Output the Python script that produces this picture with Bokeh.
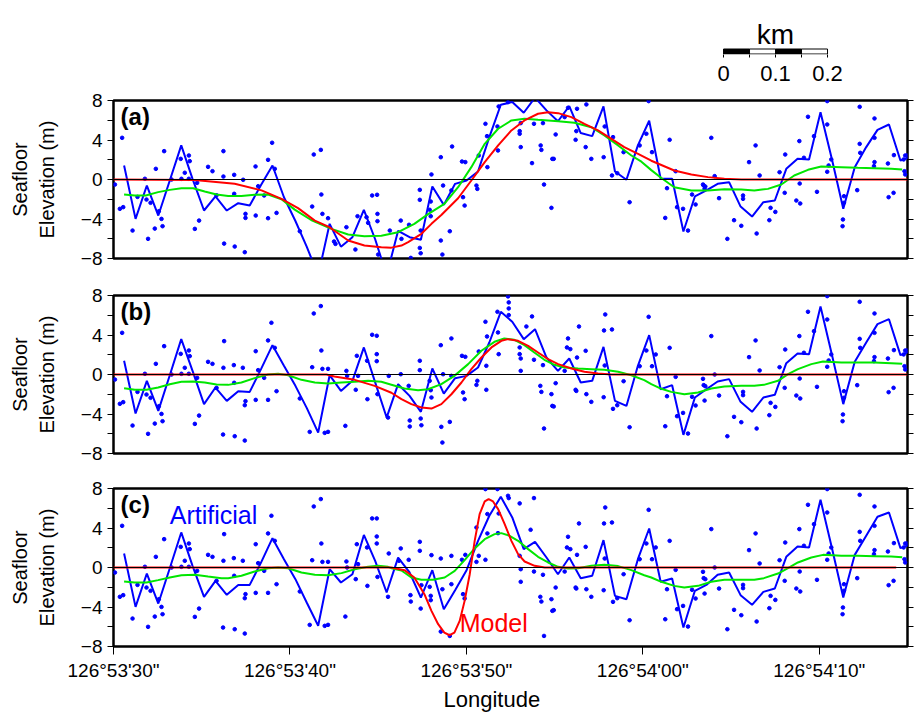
from bokeh.plotting import figure
from bokeh.layouts import column
from bokeh.models import Range1d, LinearAxis, FixedTicker, Span, Label, Title
from bokeh.embed import file_html
from bokeh.resources import INLINE

FONT = "Liberation Sans"
BLUE = "#0000ff"
RED = "#ff0000"
GREEN = "#00e600"

# ---------------- data (x = arc-seconds after 126°53'00") ----------------
x_ticks = [30, 40, 50, 60, 70]
x_tick_labels = ["126°53'30\"", "126°53'40\"", "126°53'50\"", "126°54'00\"", "126°54'10\""]
y_ticks = [-8, -4, 0, 4, 8]
y_minor = [-6, -2, 2, 6]

scale_ticks = [0, 0.05, 0.1, 0.15, 0.2]
scale_label_pos = [0, 0.1, 0.2]
scale_labels = ["0", "0.1", "0.2"]
scale_minor = [0.05, 0.15]

# profile vertices (blue line)
line_x = [30.60, 31.25, 31.89, 32.54, 33.19, 33.84, 34.48, 35.13, 35.78, 36.42,
          37.07, 37.72, 38.36, 39.01, 39.66, 40.31, 40.95, 41.60, 42.25, 42.89,
          43.54, 44.19, 44.83, 45.48, 46.13, 46.78, 47.42, 48.07, 48.72, 49.36,
          50.01, 50.66, 51.30, 51.95, 52.60, 53.25, 53.89, 54.54, 55.19, 55.83,
          56.48, 57.13, 57.77, 58.42, 59.07, 59.72, 60.36, 61.01, 61.66, 62.30,
          62.95, 63.60, 64.24, 64.89, 65.54, 66.19, 66.83, 67.48, 68.13, 68.77,
          69.42, 70.07, 70.71, 71.36, 72.01, 72.66, 73.30, 73.95, 74.60, 75.24]
line_a = [1.42, -3.99, -0.61, -3.65, -0.10, 3.45, 0.07, -3.14, -1.72, -3.14,
          -2.40, -2.64, -0.55, 1.42, -1.80, -4.20, -6.80, -9.70, -4.49, -6.80,
          -5.84, -3.07, -6.05, -9.70, -5.20, -5.84, -6.10, -0.70, -2.57, -0.44,
          -0.10, 0.81, 4.29, 7.57, 7.84, 6.76, 8.30, 7.00, 5.90, 7.43,
          4.70, 4.39, 7.40, 0.81, -0.03, 3.45, 5.95, 0.07, 0.07, -5.27,
          -1.72, -1.11, -0.44, -0.27, -2.74, -3.75, -2.30, -2.13, 1.08, 2.10,
          2.03, 6.82, 2.10, -2.97, 1.25, 3.28, 5.03, 5.57, 1.93, 2.30]
line_b = [1.39, -3.95, -0.64, -3.68, -0.07, 3.58, 0.37, -3.00, -1.32, -2.67,
          -1.69, -1.76, 0.54, 2.97, 0.88, -1.15, -3.38, -5.88, -0.07, -1.66,
          -0.64, 2.74, -0.80, -4.36, -0.98, -2.16, -3.78, 0.61, -1.93, -0.37,
          -0.14, 0.71, 3.24, 6.35, 5.34, 3.58, 4.59, 1.72, 0.37, 1.62,
          -0.81, -0.64, 2.80, -2.67, -3.18, 0.88, 3.99, -1.49, -1.08, -6.11,
          -2.33, -1.49, -0.71, -0.47, -2.77, -3.78, -2.33, -2.06, 1.15, 2.13,
          2.06, 6.89, 2.06, -3.00, 1.28, 3.24, 5.10, 5.60, 1.96, 2.40]
line_c = [1.42, -3.99, -0.61, -3.65, -0.07, 3.55, 0.17, -2.97, -1.35, -2.77,
          -1.76, -1.76, 0.50, 2.97, 0.84, -1.18, -3.55, -5.90, -0.17, -1.52,
          -0.68, 3.30, 0.68, -2.53, 1.00, -0.50, -3.04, -0.27, -4.22, -2.30,
          -0.27, 2.70, 5.24, 7.16, 5.07, 1.86, 2.60, 1.01, -0.68, 1.01,
          -1.08, -0.84, 2.77, -2.87, -3.21, 0.84, 3.95, -1.45, -1.11, -6.08,
          -2.36, -1.76, -0.74, -0.51, -2.80, -3.78, -2.47, -2.13, 1.08, 2.13,
          2.03, 6.86, 2.03, -3.04, 1.28, 3.21, 5.14, 5.57, 1.96, 2.36]

# model curves (red)
model_a_x = [30.0, 34.6, 36.87, 38.39, 39.52, 40.46, 41.41, 42.24, 43.3, 44.22,
             45.18, 45.75, 46.32, 46.7, 47.45, 48.02, 48.58, 49.53, 50.28, 51.04,
             51.8, 52.55, 53.29, 54.06, 54.63, 55.2, 55.95, 56.69, 57.46, 58.22,
             58.95, 59.73, 60.48, 61.78, 62.75, 63.69, 64.62, 65.58, 75.0]
model_a_y = [0.0, -0.05, -0.44, -1.10, -1.96, -2.90, -4.16, -4.83, -6.18, -6.69,
             -6.86, -6.90, -6.69, -6.35, -5.50, -4.49, -3.60, -1.90, -0.10, 1.76,
             3.45, 4.97, 5.98, 6.66, 6.82, 6.72, 6.32, 5.64, 4.97, 4.12,
             3.28, 2.60, 1.90, 0.91, 0.51, 0.24, 0.07, 0.0, 0.0]
model_b_x = [30.0, 42.07, 42.52, 43.67, 44.8, 45.75, 46.32, 46.88, 47.45, 48.02,
             48.58, 49.15, 49.72, 50.28, 50.85, 51.42, 51.98, 52.36, 52.93, 53.5,
             54.06, 54.63, 55.2, 55.95, 56.69, 57.46, 58.22, 75.0]
model_b_y = [0.0, 0.0, -0.20, -0.54, -1.15, -1.85, -2.50, -3.00, -3.34, -3.45,
             -3.00, -2.00, -0.81, 0.54, 1.72, 2.74, 3.41, 3.58, 3.41, 2.90,
             2.23, 1.55, 1.05, 0.61, 0.27, 0.10, 0.0, 0.0]
model_c_x = [30.0, 45.75, 46.49, 47.05, 47.62, 48.02, 48.4, 48.75, 49.05, 49.32,
             49.62, 49.9, 50.19, 50.47, 50.75, 51.04, 51.26, 51.51, 51.8, 52.17,
             52.55, 52.93, 53.3, 53.87, 54.44, 74.36]
model_c_y = [0.0, 0.0, -0.27, -1.01, -2.70, -4.39, -5.74, -6.59, -6.86, -6.59,
             -5.41, -3.38, -0.68, 2.70, 5.41, 6.69, 6.93, 6.69, 5.91, 4.39,
             2.70, 1.35, 0.61, 0.17, 0.0, 0.0]

# smoothed data (green)
smooth_a_x = [30.6, 31.21, 31.83, 32.53, 33.19, 33.85, 34.51, 35.17, 35.84, 36.5,
              37.25, 38.0, 38.76, 39.52, 40.27, 41.2, 42.35, 43.3, 44.22, 45.18,
              46.13, 47.05, 47.83, 48.75, 49.53, 50.28, 51.04, 51.8, 52.55, 53.29,
              54.06, 55.2, 56.12, 57.08, 57.82, 58.6, 59.35, 59.92, 60.48, 61.05,
              61.78, 62.75, 63.69, 64.62, 65.58, 66.32, 67.09, 67.85, 68.58, 69.36,
              70.11, 71.25, 72.19, 73.12, 74.08, 74.7]
smooth_a_y = [-1.52, -1.62, -1.62, -1.28, -1.05, -0.88, -0.88, -1.22, -1.52, -1.66,
              -1.66, -1.55, -1.52, -2.00, -3.05, -4.10, -5.00, -5.57, -5.74, -5.70,
              -5.34, -4.49, -3.50, -2.47, -0.78, 1.25, 3.61, 5.14, 5.98, 6.15,
              6.05, 5.91, 5.74, 5.30, 4.46, 3.45, 2.43, 1.80, 0.95, 0.15,
              -0.78, -1.11, -1.11, -0.98, -1.01, -1.11, -0.95, -0.51, 0.41, 0.98,
              1.32, 1.25, 1.18, 1.15, 1.08, 1.01]
smooth_b_x = [30.6, 31.21, 31.87, 32.53, 33.19, 33.85, 34.51, 35.17, 35.84, 36.5,
              37.25, 38.0, 38.76, 39.33, 39.9, 40.65, 41.41, 42.16, 42.92, 43.67,
              44.43, 45.18, 45.75, 46.49, 47.26, 47.83, 48.58, 49.32, 50.1, 50.85,
              51.59, 52.15, 52.72, 53.29, 53.85, 54.42, 54.99, 55.55, 56.33, 57.08,
              57.82, 58.6, 59.35, 60.08, 60.48, 61.05, 61.61, 62.35, 63.13, 63.88,
              64.62, 65.58, 66.32, 66.86, 67.66, 68.23, 68.79, 69.55, 70.21, 71.25,
              72.19, 73.12, 74.08, 74.7]
smooth_b_y = [-1.39, -1.55, -1.55, -1.32, -0.98, -0.74, -0.71, -0.81, -1.01, -1.05,
              -0.81, -0.37, 0.0, 0.07, -0.07, -0.54, -0.81, -0.91, -0.81, -0.74,
              -0.64, -0.74, -1.03, -1.42, -1.59, -1.49, -0.98, -0.14, 1.05, 2.40,
              3.31, 3.65, 3.51, 2.97, 2.23, 1.49, 0.98, 0.71, 0.61, 0.54,
              0.47, 0.27, -0.07, -0.57, -0.98, -1.45, -1.76, -1.99, -1.82, -1.42,
              -1.22, -1.15, -1.15, -1.05, -0.64, 0.03, 0.54, 1.05, 1.32, 1.22,
              1.22, 1.22, 1.15, 1.08]
smooth_c_x = [30.6, 31.21, 31.87, 32.53, 33.19, 33.85, 34.61, 35.36, 36.12, 36.5,
              37.25, 38.0, 38.76, 39.33, 39.9, 40.65, 41.41, 42.16, 42.92, 43.67,
              44.43, 45.0, 45.56, 45.75, 46.32, 46.88, 47.45, 48.11, 48.77, 49.34,
              49.9, 50.47, 51.04, 51.6, 51.98, 52.45, 52.93, 53.5, 54.06, 54.63,
              55.2, 55.76, 56.33, 57.08, 57.82, 58.6, 59.35, 60.08, 60.48, 61.05,
              61.78, 62.35, 63.13, 63.88, 64.62, 65.58, 66.32, 66.86, 67.66, 68.23,
              68.79, 69.55, 70.21, 71.25, 72.19, 73.12, 74.08, 74.7]
smooth_c_y = [-1.42, -1.52, -1.52, -1.28, -1.01, -0.78, -0.74, -0.91, -1.08, -1.08,
              -0.84, -0.41, -0.07, 0.0, -0.07, -0.51, -0.74, -0.78, -0.57, -0.17,
              0.07, 0.17, 0.07, -0.07, -0.30, -1.01, -1.25, -1.25, -1.01, -0.34,
              0.74, 1.93, 2.87, 3.38, 3.48, 3.21, 2.70, 1.86, 1.08, 0.51,
              0.07, -0.10, -0.07, 0.17, 0.27, 0.14, -0.27, -0.78, -1.01, -1.45,
              -1.86, -2.03, -1.86, -1.45, -1.25, -1.25, -1.25, -1.08, -0.61, -0.07,
              0.51, 1.01, 1.28, 1.18, 1.18, 1.15, 1.11, 1.05]

# individual soundings (blue dots): common to all panels outside the anomaly
dots_left_x = [30.08, 30.36, 30.49, 30.55, 31.08, 31.36, 31.78, 31.87, 31.96, 32.10,
               32.34, 32.40, 32.57, 32.72, 32.78, 32.87, 33.29, 33.81, 33.85, 34.04,
               34.27, 34.27, 34.32, 34.61, 34.74, 34.85, 35.36]
dots_left_y = [-0.51, -2.97, 4.22, -2.80, -5.17, -1.76, 0.07, -2.03, -6.01, -2.36,
               -4.97, 1.08, -3.21, -3.99, -4.73, 2.87, 0.00, 2.09, 0.07, 0.68,
               2.43, 0.07, 1.86, -5.00, -0.34, -4.16, 1.28]
dots_right_x = [66.02, 66.39, 66.45, 66.62, 67.17, 67.24, 67.51, 67.75, 68.04, 68.07,
                68.70, 68.87, 68.89, 68.92, 69.13, 69.36, 69.70, 69.87, 70.45, 70.45,
                70.45, 70.53, 70.68, 71.32, 71.34, 71.40, 71.40, 72.15, 72.29, 72.29,
                72.32, 73.10, 73.13, 73.13, 73.13, 73.89, 73.93, 74.21, 74.23, 74.78,
                74.83, 74.87, 74.87, 74.97]
dots_right_y = [1.76, 3.45, -5.47, 0.41, -4.12, -2.87, -3.28, 0.74, -1.35, 2.53,
                -2.13, 3.89, -0.41, -2.43, 2.20, 6.35, 4.39, -1.25, 7.94, 5.57,
                0.78, 1.42, 2.03, -4.73, -4.05, -1.69, -2.36, -1.08, 7.36, 3.61,
                2.70, 1.35, 6.18, 4.22, 1.76, 1.62, -1.79, -1.35, 2.47, 2.03,
                0.84, 2.43, 0.51, 2.43]

dots_a_x = [35.61, 35.84, 36.23, 36.23, 36.27, 36.84, 36.84, 36.87, 37.35, 37.44,
            37.48, 37.48, 38.05, 38.06, 38.20, 38.54, 38.76, 38.76, 38.99, 39.14,
            39.24, 40.56, 41.26, 41.35, 41.75, 41.78, 41.84, 42.16, 42.50, 42.58,
            43.20, 43.71, 43.83, 44.34, 44.43, 44.66, 44.94, 44.96, 44.96, 45.00,
            45.66, 46.28, 46.32, 46.75, 46.85, 47.36, 47.36, 47.36, 47.41, 47.41,
            47.92, 47.98, 47.98, 48.02, 48.55, 48.55, 48.64, 48.68, 49.06, 49.15,
            49.19, 49.75, 49.81, 49.90, 49.94, 50.57, 50.62, 50.70, 51.08, 51.17,
            51.19, 51.76, 51.79, 51.83, 52.36, 53.02, 53.02, 53.08, 53.08, 53.72,
            53.83, 54.21, 54.25, 54.34, 54.40, 54.82, 54.87, 54.95, 55.06, 55.57,
            55.76, 56.19, 56.23, 56.27, 56.76, 56.80, 57.08, 57.78, 57.84, 58.25,
            58.31, 58.55, 58.91, 59.25, 59.82, 60.20, 60.33, 60.52, 61.27, 61.37,
            61.52, 61.86, 61.94, 62.28, 62.56, 62.79, 62.99, 63.41, 63.45, 63.50,
            63.54, 63.88, 64.07, 64.32, 64.79, 65.17, 65.58, 65.68, 65.68]
dots_a_y = [0.84, -1.60, 2.87, 0.30, -6.49, -1.45, 0.47, -6.79, -0.03, -7.36,
            -3.89, -3.48, 1.32, -3.65, -0.68, -1.62, 1.99, -3.92, 3.72, 1.08,
            -3.38, -5.24, -2.74, 2.53, 3.00, -1.52, -3.48, -3.92, -6.28, -6.52,
            -4.83, -7.09, -3.72, -3.82, -4.39, -1.62, -1.55, -3.48, -4.22, -7.60,
            -5.17, -4.16, -6.01, -4.59, -7.94, -1.05, -2.06, -6.93, -7.47, -5.17,
            -3.07, -3.72, -2.23, 0.51, -6.18, 2.26, -7.60, -0.61, -5.24, -1.11,
            3.34, 1.82, -1.79, -2.64, 1.76, -0.61, -0.95, 2.43, 5.64, 4.39,
            1.25, 5.37, 2.94, 7.40, 7.84, 4.90, 4.63, 3.28, 5.71, 1.66,
            5.64, 3.45, 3.00, 5.71, -0.51, -2.87, 2.09, 2.09, 4.56, 6.32,
            7.26, 4.02, 4.90, 7.16, 3.28, 7.60, 2.09, 2.26, 5.37, 0.41,
            4.29, 0.64, 2.77, -2.30, 3.45, 4.63, 7.94, 2.77, -3.89, -0.88,
            4.02, 0.84, -2.80, -2.97, -5.17, -1.52, -2.53, -0.51, -0.61, -0.95,
            -0.71, 4.22, 0.34, -1.89, -6.01, -4.12, -4.69, -1.62, -1.96]

dots_b_x = [35.61, 35.84, 36.21, 36.23, 36.27, 36.82, 36.84, 36.87, 37.33, 37.44,
            37.44, 37.48, 38.06, 38.06, 38.20, 38.54, 38.76, 38.76, 38.95, 39.14,
            39.24, 40.56, 41.12, 41.26, 41.35, 41.75, 41.78, 41.84, 41.97, 42.16,
            42.16, 43.14, 43.20, 43.24, 43.73, 43.79, 43.86, 44.37, 44.39, 44.66,
            44.92, 44.92, 44.92, 44.96, 45.56, 45.60, 46.28, 46.73, 46.79, 46.79,
            47.36, 47.36, 47.41, 47.45, 47.92, 47.98, 48.02, 48.55, 48.58, 48.64,
            48.68, 49.06, 49.15, 49.15, 49.75, 49.81, 49.90, 49.94, 50.57, 50.62,
            50.70, 51.08, 51.13, 51.13, 51.17, 51.76, 51.79, 51.83, 52.36, 52.40,
            52.40, 52.40, 53.02, 53.02, 53.08, 53.08, 53.40, 53.72, 53.83, 54.19,
            54.25, 54.34, 54.40, 54.82, 54.87, 54.95, 55.06, 55.57, 55.70, 55.76,
            55.89, 56.19, 56.23, 56.27, 56.38, 56.76, 56.80, 57.08, 57.78, 57.80,
            57.84, 57.87, 58.25, 58.31, 58.55, 58.91, 59.25, 59.82, 60.20, 60.33,
            60.52, 60.73, 61.27, 61.37, 61.52, 61.86, 61.94, 62.28, 62.56, 62.79,
            62.99, 63.41, 63.45, 63.50, 63.54, 63.88, 64.07, 64.32, 64.79, 65.17,
            65.58, 65.68, 65.68]
dots_b_y = [1.08, -1.35, -6.08, 0.68, 3.38, 0.95, -0.84, -6.25, 0.68, -6.69,
            -3.11, -2.70, 2.36, -2.57, 0.44, -0.34, 3.45, -2.57, 5.24, 2.70,
            -1.69, -2.43, -5.81, 0.74, 6.18, 6.93, 2.43, 0.57, -5.91, 0.57,
            -5.81, -5.20, 0.37, -0.14, -1.55, 1.89, -0.14, 1.39, -2.50, 4.02,
            3.92, 2.06, 1.35, -1.99, -4.36, -0.14, 0.03, -1.15, -4.66, -5.27,
            1.39, 0.44, -4.46, -5.14, -0.64, -1.59, -2.33, 2.97, -5.30, -6.89,
            0.03, -4.80, 3.65, -0.14, 1.89, -1.82, -2.50, 1.79, -1.05, -0.64,
            2.33, 5.34, 0.88, -1.55, 3.85, 6.35, 4.26, 2.06, 7.91, 7.30,
            6.69, 6.01, 2.06, 2.74, 1.62, 0.37, 4.86, 5.88, 1.49, -1.15,
            -1.76, 0.95, -5.47, -1.99, -3.18, -3.24, -0.88, 0.37, 2.74, 3.65,
            2.57, -1.55, -1.66, 1.72, 4.86, 2.40, -1.99, -2.77, -2.30, 4.46,
            0.91, 6.08, 4.56, -3.48, -3.11, -0.68, -5.34, 0.84, 2.43, 5.84,
            0.84, 2.03, -5.24, -2.20, 2.70, -0.24, -4.22, -3.89, -5.98, -2.26,
            -3.14, -0.44, -1.08, -2.64, -1.18, 3.89, 0.00, -2.13, -6.25, -4.29,
            -4.83, -1.76, -2.09]

dots_c_x = [35.61, 35.84, 36.21, 36.23, 36.27, 36.82, 36.84, 36.87, 37.33, 37.44,
            37.44, 37.48, 38.06, 38.06, 38.20, 38.54, 38.76, 38.76, 38.95, 39.14,
            39.24, 40.56, 41.12, 41.26, 41.35, 41.75, 41.78, 41.84, 41.97, 42.16,
            42.16, 43.14, 43.20, 43.24, 43.73, 43.79, 43.86, 44.37, 44.39, 44.66,
            44.92, 44.92, 44.92, 44.96, 45.56, 45.60, 46.18, 46.28, 46.73, 46.83,
            46.85, 47.36, 47.36, 47.41, 47.45, 47.92, 47.98, 47.98, 48.02, 48.55,
            48.55, 48.64, 49.06, 49.15, 49.15, 49.75, 49.81, 49.90, 49.94, 50.57,
            50.57, 50.70, 51.08, 51.08, 51.19, 51.19, 51.76, 51.79, 51.83, 52.36,
            52.40, 53.02, 53.02, 53.08, 53.08, 53.64, 53.83, 53.83, 54.19, 54.25,
            54.34, 54.40, 54.82, 54.87, 54.95, 55.06, 55.57, 55.70, 55.76, 55.89,
            56.19, 56.23, 56.27, 56.38, 56.76, 56.80, 57.08, 57.78, 57.80, 57.84,
            57.87, 58.25, 58.31, 58.55, 58.91, 59.25, 59.82, 60.20, 60.33, 60.52,
            60.73, 61.27, 61.37, 61.52, 61.86, 61.94, 62.28, 62.56, 62.79, 62.99,
            63.41, 63.45, 63.50, 63.54, 63.88, 64.07, 64.32, 64.79, 65.17, 65.58,
            65.68, 65.68]
dots_c_y = [1.08, -1.35, -6.08, 0.68, 3.38, 0.95, -0.84, -6.25, 0.68, -6.69,
            -3.11, -2.70, 2.36, -2.57, 0.44, -0.34, 3.45, -2.57, 5.24, 2.70,
            -1.69, -2.43, -5.81, 0.74, 6.18, 6.93, 2.43, 0.57, -5.91, 0.57,
            -5.81, -4.97, 0.61, 0.00, -1.18, 2.36, 0.34, 2.03, -1.86, 4.97,
            4.97, 3.14, 2.43, -0.95, -2.97, 1.42, 0.68, 1.93, 0.78, -2.80,
            -3.45, 2.60, 1.69, -4.16, -1.79, -1.96, -2.87, -3.31, 1.25, 0.91,
            -6.49, -2.20, -6.93, 1.18, -1.69, 0.78, -2.70, -3.14, 1.28, 4.05,
            0.57, 1.18, 7.94, 0.78, 3.45, 5.41, 7.94, 3.48, 5.47, 7.26,
            7.03, 6.49, 1.18, -1.45, -0.17, 3.82, 7.03, -0.41, -2.97, -3.45,
            -0.74, -6.93, -3.21, -4.39, -4.32, -2.03, -0.41, 2.03, 3.11, 1.86,
            -2.03, -2.13, 1.28, 4.46, 2.09, -2.20, -2.97, -2.30, 4.46, 0.91,
            6.08, 4.56, -3.48, -3.11, -0.68, -5.34, 0.84, 2.43, 5.84, 0.84,
            2.03, -5.24, -2.20, 2.70, -0.24, -4.22, -3.89, -5.98, -2.26, -3.14,
            -0.44, -1.08, -2.64, -1.18, 3.89, 0.00, -2.13, -6.25, -4.29, -4.83,
            -1.76, -2.09]

W = 918
BORDER_L = 113
BORDER_R = 11


def style_axis(ax, size):
    ax.axis_line_color = None
    ax.major_tick_line_color = "black"
    ax.minor_tick_line_color = "black"
    ax.major_label_text_color = "black"
    ax.major_label_text_font = FONT
    ax.major_label_text_font_size = size


def panel(tag, line_y, model_x, model_y, smooth_x, smooth_y, dx, dy,
          top, bottom, show_x):
    p = figure(width=W, height=top + 158 + bottom,
               x_range=Range1d(30, 75), y_range=Range1d(-8, 8),
               output_backend="svg", toolbar_location=None,
               x_axis_location="below" if show_x else None,
               min_border_left=BORDER_L, min_border_right=BORDER_R,
               min_border_top=top, min_border_bottom=bottom,
               outline_line_color="black", outline_line_width=2.5,
               background_fill_color="white", border_fill_color="white")
    p.grid.visible = False

    ya = p.yaxis[0]
    ya.ticker = FixedTicker(ticks=y_ticks, minor_ticks=y_minor)
    style_axis(ya, "19px")
    ya.major_tick_in = 0
    ya.major_tick_out = 6
    ya.minor_tick_in = 0
    ya.minor_tick_out = 6
    ya.major_label_standoff = 5
    ya.axis_label = "Seafloor\nElevation (m)"
    ya.axis_label_text_font = FONT
    ya.axis_label_text_font_size = "20px"
    ya.axis_label_text_font_style = "normal"
    ya.axis_label_text_color = "black"
    ya.axis_label_standoff = 20

    ra = LinearAxis(ticker=FixedTicker(ticks=y_ticks, minor_ticks=y_minor),
                    major_label_overrides={t: "" for t in y_ticks},
                    major_tick_in=0, major_tick_out=6,
                    minor_tick_in=0, minor_tick_out=6, major_label_standoff=0)
    style_axis(ra, "19px")
    p.add_layout(ra, "right")

    if show_x:
        xa = p.xaxis[0]
        xa.ticker = FixedTicker(ticks=x_ticks, minor_ticks=[])
        xa.major_label_overrides = dict(zip(x_ticks, x_tick_labels))
        style_axis(xa, "19px")
        xa.major_tick_in = 0
        xa.major_tick_out = 8
        xa.major_label_standoff = 5

    p.add_layout(Span(location=0, dimension="width", line_color="black", line_width=1))
    p.scatter(dx, dy, size=3.6, color=BLUE)
    p.line(line_x, line_y, line_color=BLUE, line_width=2)
    p.line(smooth_x, smooth_y, line_color=GREEN, line_width=2)
    p.line(model_x, model_y, line_color=RED, line_width=2)

    p.add_layout(Label(x=30.4, y=5.0, text=tag, text_font=FONT,
                       text_font_size="24px", text_font_style="bold",
                       text_color="black"))
    return p


pa = panel("(a)", line_a, model_a_x, model_a_y, smooth_a_x, smooth_a_y,
           dots_left_x + dots_a_x + dots_right_x, dots_left_y + dots_a_y + dots_right_y,
           10, 18, False)
pb = panel("(b)", line_b, model_b_x, model_b_y, smooth_b_x, smooth_b_y,
           dots_left_x + dots_b_x + dots_right_x, dots_left_y + dots_b_y + dots_right_y,
           19, 18, False)
pc = panel("(c)", line_c, model_c_x, model_c_y, smooth_c_x, smooth_c_y,
           dots_left_x + dots_c_x + dots_right_x, dots_left_y + dots_c_y + dots_right_y,
           17, 68, True)

pc.add_layout(Label(x=33.19, y=3.9, text="Artificial", text_font=FONT,
                    text_font_size="25px", text_color=BLUE))
pc.add_layout(Label(x=49.62, y=-7.0, text="Model", text_font=FONT,
                    text_font_size="25px", text_color=RED))
pc.add_layout(Title(text="Longitude", align="left", offset=330, standoff=2,
                    text_font=FONT, text_font_size="22px", text_font_style="normal",
                    text_color="black"), "below")

# scale bar (x in km); frame spans the same pixels as the panels' frames,
# its lower edge is the bar's lower edge and its x axis carries the km labels
sb = figure(width=W, height=90, x_range=Range1d(-1.1731, 0.3538), y_range=Range1d(54, 0),
            output_backend="svg", toolbar_location=None,
            min_border_left=BORDER_L, min_border_right=BORDER_R,
            min_border_top=0, min_border_bottom=36,
            x_axis_location="below", y_axis_location=None, outline_line_color=None)
sb.grid.visible = False
sxa = sb.xaxis[0]
sxa.ticker = FixedTicker(ticks=scale_label_pos, minor_ticks=scale_minor)
sxa.major_label_overrides = dict(zip(scale_label_pos, scale_labels))
style_axis(sxa, "22px")
sxa.major_tick_in = 0
sxa.major_tick_out = 3
sxa.minor_tick_in = 0
sxa.minor_tick_out = 3
sxa.major_label_standoff = 8
seg_l = scale_ticks[:-1]
seg_r = scale_ticks[1:]
sb.quad(left=seg_l, right=seg_r, top=48.5, bottom=53.5,
        fill_color=["black", "white", "black", "white"], line_color="black", line_width=1)
sb.add_layout(Label(x=0.1, y=34, text="km", text_align="center", text_baseline="alphabetic",
                    text_font=FONT, text_font_size="28px", text_color="black"))

layout = column(sb, pa, pb, pc, spacing=0)
open("out.html", "w").write(file_html(layout, INLINE))
